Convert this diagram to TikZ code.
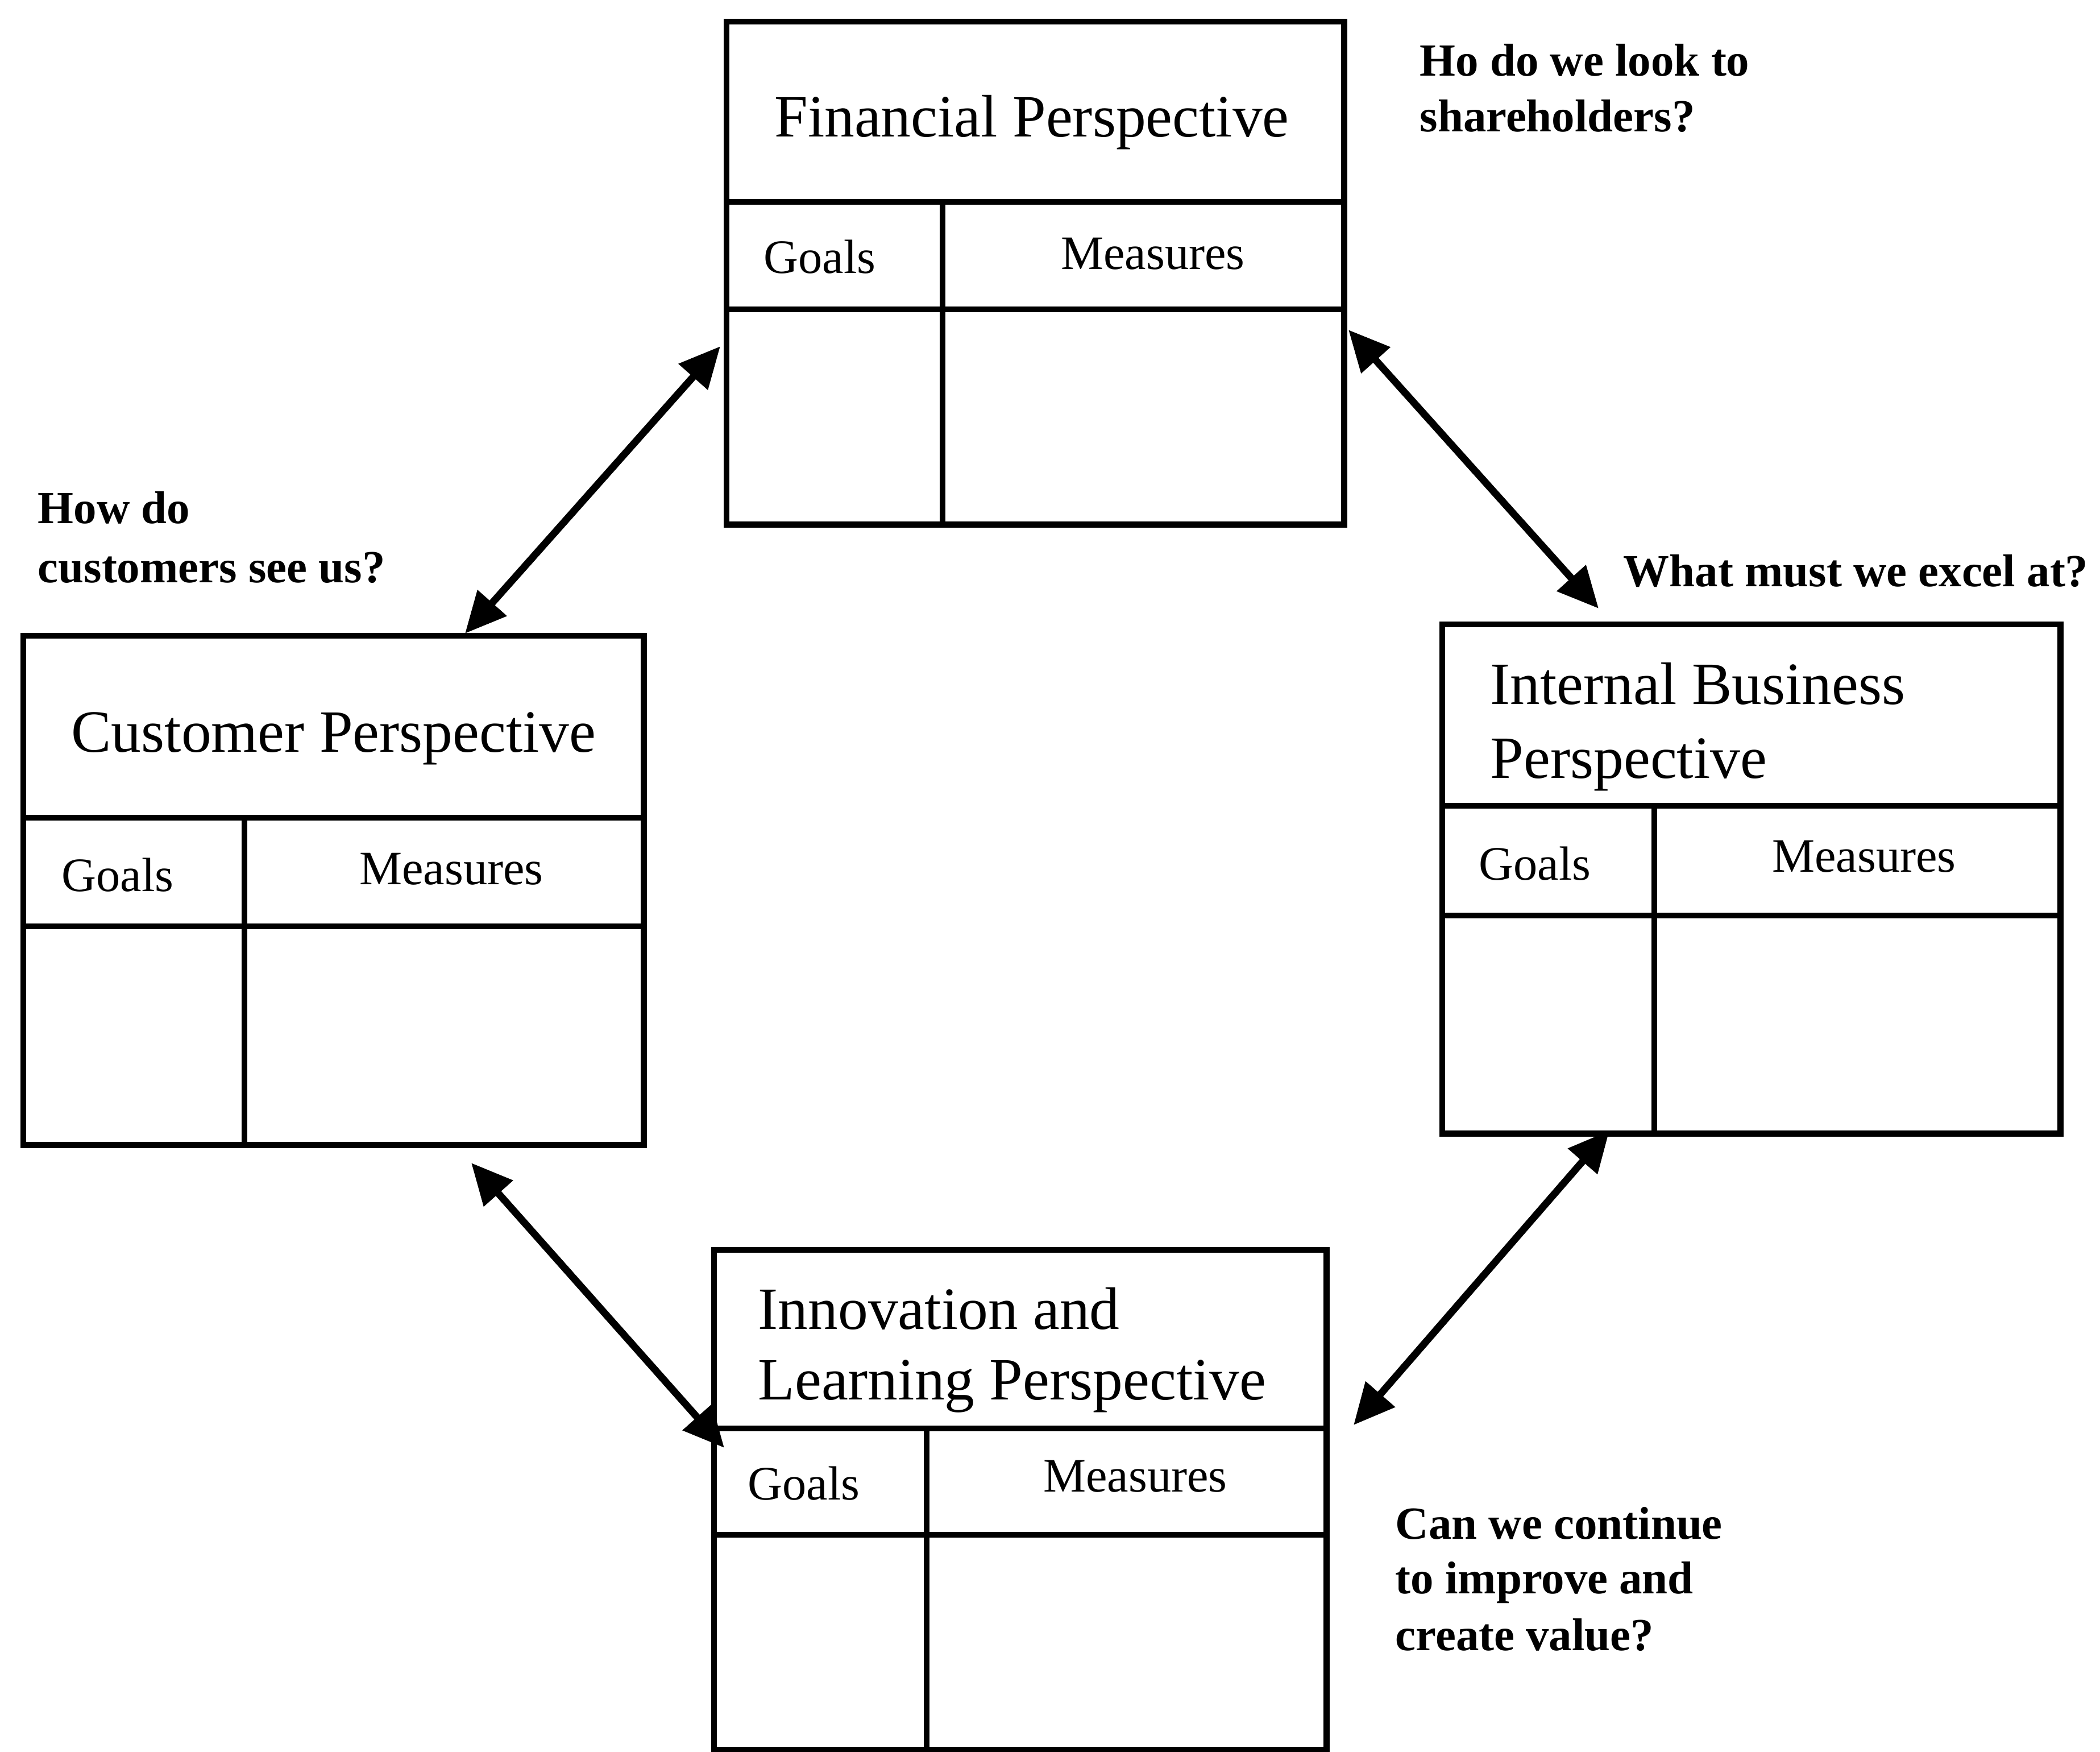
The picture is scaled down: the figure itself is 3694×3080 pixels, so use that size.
\documentclass[tikz,border=0pt]{standalone}
\usepackage{fontspec}
\setmainfont{Liberation Serif}
\usetikzlibrary{arrows.meta}

\tikzset{
  frame/.style={draw, line width=3pt, anchor=north west, inner sep=0pt, outer sep=0pt},
  rule/.style={line width=3pt},
  link/.style={line width=3.6pt,
    {Triangle[length=0.72cm,width=0.66cm]}-{Triangle[length=0.72cm,width=0.66cm]}},
  title/.style={font=\fontsize{30}{36}\selectfont, inner sep=0pt},
  cellhead/.style={font=\fontsize{24}{29}\selectfont, inner sep=0pt},
  question/.style={font=\bfseries\fontsize{23}{28}\selectfont, inner sep=0pt, anchor=base west},
}

\begin{document}
\begin{tikzpicture}[x=0.01cm, y=-0.01cm]
  \useasboundingbox (0,0) rectangle (3694,3080);
  \clip (0,0) rectangle (3694,3080);
  \fill[white] (0,0) rectangle (3694,3080);

  % Financial perspective card
  \node[frame, minimum width=10.86cm, minimum height=8.84cm] (fin) at (1278,38) {};
  \draw[rule] (1278,355) -- (2364,355);
  \draw[rule] (1278,544) -- (2364,544);
  \draw[rule] (1658,355) -- (1658,922);
  \node[title, anchor=base] (finT) at (1815,240) {Financial Perspective};
  \node[cellhead, anchor=base west] (finG) at (1343,480) {Goals};
  \node[cellhead, anchor=base] (finM) at (2028,473) {Measures};

  % Customer perspective card
  \node[frame, minimum width=10.91cm, minimum height=8.95cm] (cus) at (41,1118) {};
  \draw[rule] (41,1438) -- (1132,1438);
  \draw[rule] (41,1629) -- (1132,1629);
  \draw[rule] (430,1438) -- (430,2013);
  \node[title, anchor=base] (cusT) at (587,1322) {Customer Perspective};
  \node[cellhead, anchor=base west] (cusG) at (108,1567) {Goals};
  \node[cellhead, anchor=base] (cusM) at (794,1555) {Measures};

  % Internal business perspective card
  \node[frame, minimum width=10.87cm, minimum height=8.95cm] (ibp) at (2537,1098) {};
  \draw[rule] (2537,1417) -- (3624,1417);
  \draw[rule] (2537,1610) -- (3624,1610);
  \draw[rule] (2910,1417) -- (2910,1993);
  \node[title, anchor=base west] (ibpT1) at (2621,1238) {Internal Business};
  \node[title, anchor=base west] (ibpT2) at (2621,1368) {Perspective};
  \node[cellhead, anchor=base west] (ibpG) at (2601,1547) {Goals};
  \node[cellhead, anchor=base] (ibpM) at (3279,1533) {Measures};

  % Innovation and learning perspective card
  \node[frame, minimum width=10.77cm, minimum height=8.79cm] (inn) at (1256,2198) {};
  \draw[rule] (1256,2512) -- (2333,2512);
  \draw[rule] (1256,2699) -- (2333,2699);
  \draw[rule] (1630,2512) -- (1630,3077);
  \node[title, anchor=base west] (innT1) at (1333,2337) {Innovation and};
  \node[title, anchor=base west] (innT2) at (1333,2461) {Learning Perspective};
  \node[cellhead, anchor=base west] (innG) at (1315,2637) {Goals};
  \node[cellhead, anchor=base] (innM) at (1997,2623) {Measures};

  % Guiding questions
  \node[question] (q1a) at (2497,133) {Ho do we look to};
  \node[question] (q1b) at (2497,231) {shareholders?};
  \node[question] (q2) at (2855,1031) {What must we excel at?};
  \node[question] (q3a) at (66,920) {How do};
  \node[question] (q3b) at (66,1024) {customers see us?};
  \node[question] (q4a) at (2454,2706) {Can we continue};
  \node[question] (q4b) at (2454,2802) {to improve and};
  \node[question] (q4c) at (2454,2902) {create value?};

  % Arrow end points next to the cards
  \coordinate (finSW) at (1267,609);
  \coordinate (cusN) at (818,1114);
  \coordinate (finSE) at (2372,580);
  \coordinate (ibpN) at (2812,1070);
  \coordinate (ibpS) at (2831,1988);
  \coordinate (innE) at (2381,2506);
  \coordinate (cusS) at (829,2045);
  \coordinate (innW) at (1274,2546);

  % Two-way links between the perspectives
  \draw[link] (finSW) -- (cusN);
  \draw[link] (finSE) -- (ibpN);
  \draw[link] (ibpS) -- (innE);
  \draw[link] (cusS) -- (innW);
\end{tikzpicture}
\end{document}
